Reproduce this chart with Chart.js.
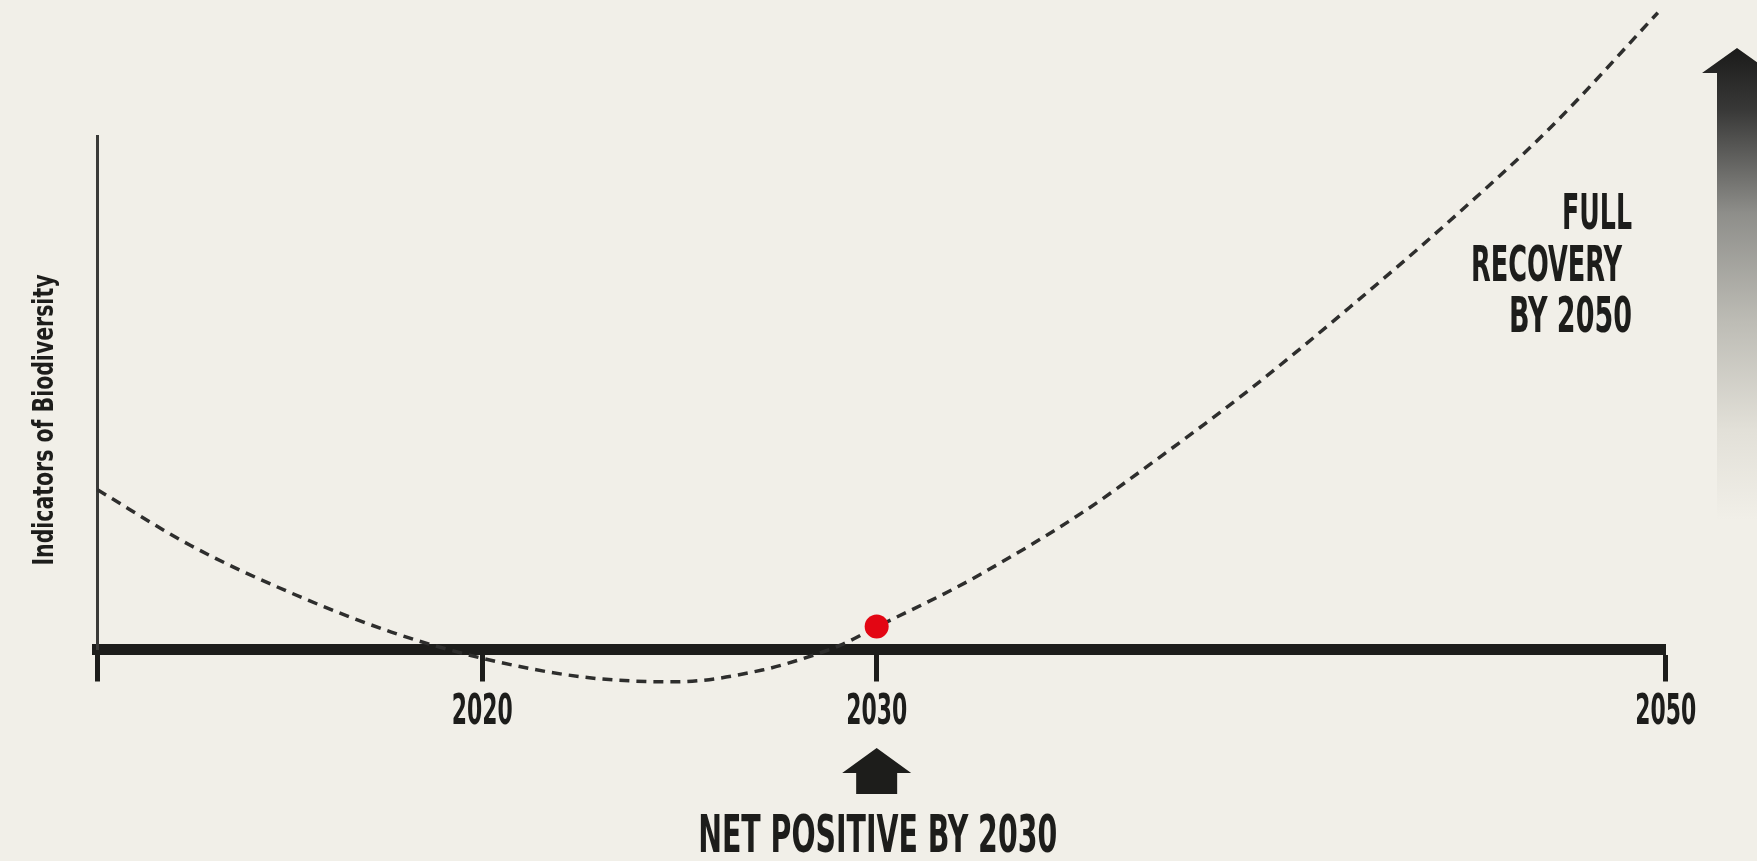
<!DOCTYPE html>
<html>
<head>
<meta charset="utf-8">
<title>Indicators of Biodiversity</title>
<script src="https://cdn.jsdelivr.net/npm/chart.js@4.4.1/dist/chart.umd.min.js"></script>
<style>
    html, body { margin: 0; padding: 0; background: #f1efe8; overflow: hidden; }
    #chart { display: block; }
</style>
</head>
<body>
<canvas id="chart" width="1757" height="861"></canvas>
<script>
// Curve: year, index value (0 = the heavy x axis line)
const curveYears  = [2010.25, 2012.6, 2015.1, 2017.7, 2020.0, 2022.6, 2024.9, 2027.1, 2028.4, 2029.1,
                     2030.0, 2031.8, 2032.6, 2035.2, 2036.9, 2039.5, 2042.0, 2044.5, 2047.1, 2049.8];
const curveValues = [3.11, 2.03, 1.12, 0.34, -0.17, -0.54, -0.63, -0.40, -0.11, 0.09,
                     0.44, 1.12, 1.45, 2.66, 3.59, 5.09, 6.67, 8.33, 10.18, 12.40];

// The red marker
const markerYears  = [2030];
const markerValues = [0.45];

// Axes
const xMin = 2010.25, xMax = 2050;
const tickYears = [2020, 2030, 2050];
const yMin = 0, yMax = 10;

// Texts
const yTitle = "Indicators of Biodiversity";
const bottomNote = "NET POSITIVE BY 2030";
const sideNote = ["FULL", "RECOVERY", "BY 2050"];

const FONT = "'Liberation Sans Narrow', 'Arial Narrow', 'DejaVu Sans Condensed', 'Liberation Sans', sans-serif";
const INK = "#1d1d1b";
const BG = "#f1efe8";

// draw text squeezed/stretched to a given width
function fitText(ctx, text, x, y, width, align) {
    const w = ctx.measureText(text).width;
    ctx.save();
    ctx.translate(x, y);
    ctx.scale(width / w, 1);
    ctx.textAlign = align;
    ctx.fillText(text, 0, 0);
    ctx.restore();
}

const background = {
    id: "background",
    beforeDraw(chart) {
        const ctx = chart.ctx;
        ctx.save();
        ctx.fillStyle = BG;
        ctx.fillRect(0, 0, chart.width, chart.height);
        ctx.restore();
    }
};

const notes = {
    id: "notes",
    afterDraw(chart) {
        const ctx = chart.ctx;
        const xs = chart.scales.x;
        const x30 = xs.getPixelForValue(2030);
        ctx.save();
        ctx.fillStyle = INK;
        ctx.textBaseline = "alphabetic";

        // x tick labels, placed on the scale's own ticks (condensed face)
        ctx.font = "bold 42px " + FONT;
        xs.ticks.forEach(t => {
            if (!t.label) return;
            fitText(ctx, String(t.label), xs.getPixelForValue(t.value), 724, 61, "center");
        });

        // y axis title
        ctx.font = "bold 28px " + FONT;
        ctx.save();
        ctx.translate(52.5, 420);
        ctx.rotate(-Math.PI / 2);
        fitText(ctx, yTitle, 0, 0, 291, "center");
        ctx.restore();

        // small up arrow under 2030
        ctx.beginPath();
        ctx.moveTo(x30, 748);
        ctx.lineTo(x30 + 34.5, 773);
        ctx.lineTo(x30 + 20.5, 773);
        ctx.lineTo(x30 + 20.5, 794);
        ctx.lineTo(x30 - 20.5, 794);
        ctx.lineTo(x30 - 20.5, 773);
        ctx.lineTo(x30 - 34.5, 773);
        ctx.closePath();
        ctx.fill();

        // bottom note
        ctx.font = "bold 52px " + FONT;
        fitText(ctx, bottomNote, x30 + 1, 852, 359, "center");

        // side note
        ctx.font = "bold 49px " + FONT;
        fitText(ctx, sideNote[0], 1632, 229, 70, "right");
        fitText(ctx, sideNote[1], 1622, 281, 151, "right");
        fitText(ctx, sideNote[2], 1632, 332, 123, "right");

        // big fading arrow on the right
        const g = ctx.createLinearGradient(0, 48, 0, 520);
        g.addColorStop(0, "#1b1b1a");
        g.addColorStop(0.13, "#383837");
        g.addColorStop(0.35, "#8e8e8a");
        g.addColorStop(0.58, "#bdbcb5");
        g.addColorStop(0.81, "#e2e0d8");
        g.addColorStop(1, BG);
        ctx.fillStyle = g;
        ctx.beginPath();
        ctx.moveTo(1737, 48);
        ctx.lineTo(1772, 73);
        ctx.lineTo(1757, 73);
        ctx.lineTo(1757, 520);
        ctx.lineTo(1717, 520);
        ctx.lineTo(1717, 73);
        ctx.lineTo(1702, 73);
        ctx.closePath();
        ctx.fill();

        ctx.restore();
    }
};

new Chart(document.getElementById("chart"), {
    type: "line",
    data: {
        datasets: [
            {
                data: markerYears.map((x, i) => ({ x: x, y: markerValues[i] })),
                showLine: false,
                pointRadius: 12,
                pointBackgroundColor: "#e30613",
                pointBorderWidth: 0,
                clip: false,
                order: 0
            },
            {
                data: curveYears.map((x, i) => ({ x: x, y: curveValues[i] })),
                borderColor: "#2e2e2d",
                borderWidth: 3.5,
                borderDash: [10, 7],
                pointRadius: 0,
                cubicInterpolationMode: "monotone",
                fill: false,
                clip: false,
                order: 1
            }
        ]
    },
    options: {
        responsive: false,
        animation: false,
        devicePixelRatio: 1,
        layout: { padding: { top: 136, right: 91.3, bottom: 0, left: 0 } },
        plugins: { legend: { display: false }, tooltip: { enabled: false } },
        scales: {
            x: {
                type: "linear",
                min: xMin,
                max: xMax,
                afterBuildTicks: s => { s.ticks = [xMin].concat(tickYears).map(v => ({ value: v })); },
                afterFit: s => { s.height = 861 - 649.5; },
                grid: {
                    display: true,
                    drawOnChartArea: false,
                    drawTicks: true,
                    tickLength: 32,
                    tickWidth: 5,
                    tickColor: INK,
                    color: INK
                },
                border: { display: true, width: 11, color: INK },
                ticks: {
                    display: false,
                    callback: v => tickYears.includes(v) ? String(v) : "",
                    autoSkip: false
                }
            },
            y: {
                min: yMin,
                max: yMax,
                afterFit: s => { s.width = 97.5; },
                ticks: { display: false },
                grid: { display: false },
                border: { display: true, width: 3, color: "#3a3a38" }
            }
        }
    },
    plugins: [background, notes]
});
</script>
</body>
</html>
